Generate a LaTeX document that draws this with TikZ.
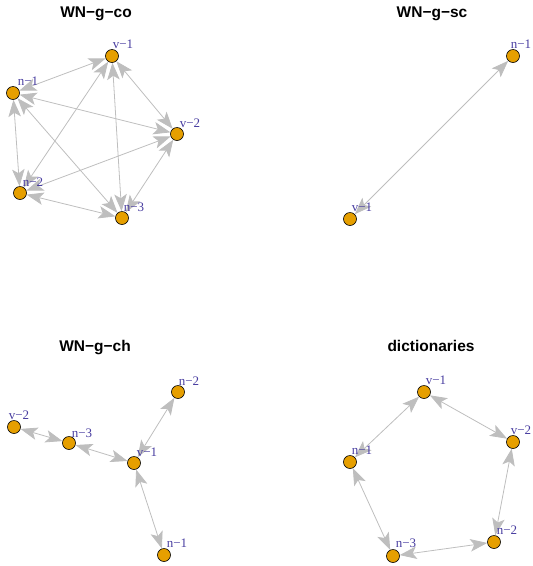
\documentclass[tikz,border=0pt]{standalone}
\usepackage{fontspec}
\setmainfont{Liberation Serif}
\setsansfont{Liberation Sans}
\usetikzlibrary{arrows.meta,backgrounds}
\definecolor{vfill}{RGB}{230,159,0}
\definecolor{egray}{RGB}{190,190,190}
\definecolor{lblue}{RGB}{72,61,160}
\tikzset{
  x=1pt, y=-1pt,
  vert/.style={circle, draw=black, line width=0.6pt, fill=vfill, minimum size=13pt, inner sep=0pt},
  vlab/.style={text=lblue, font=\fontsize{13}{13}\selectfont, inner sep=0pt, anchor=center},
  ptitle/.style={font=\sffamily\bfseries\fontsize{15.5}{15.5}\selectfont, anchor=base, inner sep=0pt},
  edge/.style={draw=egray, line width=0.8pt, {Stealth[length=17pt,width=12.5pt,inset=4pt]}-{Stealth[length=17pt,width=12.5pt,inset=4pt]}}
}
\begin{document}
\begin{tikzpicture}
\useasboundingbox (0,0) rectangle (533,566);
% ---------- Panel 1: WN-g-co ----------
\node[ptitle] (t1) at (96,17) {WN−g−co};
\node[vert] (a-v1) at (112,56) {};
\node[vert] (a-n1) at (13,93) {};
\node[vert] (a-v2) at (177,134) {};
\node[vert] (a-n2) at (20,193) {};
\node[vert] (a-n3) at (122,218) {};
% ---------- Panel 2: WN-g-sc ----------
\node[ptitle] (t2) at (432,17) {WN−g−sc};
\node[vert] (b-n1) at (513,56) {};
\node[vert] (b-v1) at (350,219) {};
% ---------- Panel 3: WN-g-ch ----------
\node[ptitle] (t3) at (95,351) {WN−g−ch};
\node[vert] (c-n2) at (178,392) {};
\node[vert] (c-v2) at (14,427) {};
\node[vert] (c-n3) at (69,443) {};
\node[vert] (c-v1) at (134,463) {};
\node[vert] (c-n1) at (164,555) {};
% ---------- Panel 4: dictionaries ----------
\node[ptitle] (t4) at (431,351) {dictionaries};
\node[vert] (d-v1) at (424,392) {};
\node[vert] (d-v2) at (513,442) {};
\node[vert] (d-n1) at (350,462) {};
\node[vert] (d-n2) at (494,542) {};
\node[vert] (d-n3) at (393,556) {};
% ---------- edges ----------
\begin{pgfonlayer}{background}
\draw[edge] (a-n1) -- (a-v1);
\draw[edge] (a-n1) -- (a-v2);
\draw[edge] (a-n1) -- (a-n2);
\draw[edge] (a-n1) -- (a-n3);
\draw[edge] (a-v1) -- (a-n2);
\draw[edge] (a-v1) -- (a-n3);
\draw[edge] (a-v1) -- (a-v2);
\draw[edge] (a-n2) -- (a-v2);
\draw[edge] (a-n2) -- (a-n3);
\draw[edge] (a-v2) -- (a-n3);
\draw[edge] (b-v1) -- (b-n1);
\draw[edge] (c-v2) -- (c-n3);
\draw[edge] (c-n3) -- (c-v1);
\draw[edge] (c-v1) -- (c-n2);
\draw[edge] (c-v1) -- (c-n1);
\draw[edge] (d-v1) -- (d-v2);
\draw[edge] (d-v1) -- (d-n1);
\draw[edge] (d-n1) -- (d-n3);
\draw[edge] (d-n3) -- (d-n2);
\draw[edge] (d-n2) -- (d-v2);
\end{pgfonlayer}
% ---------- labels ----------
\node[vlab] (la-v1) at (123,44) {v−1};
\node[vlab] (la-n1) at (28,81) {n−1};
\node[vlab] (la-v2) at (190,123) {v−2};
\node[vlab] (la-n2) at (33,182) {n−2};
\node[vlab] (la-n3) at (134,207) {n−3};
\node[vlab] (lb-n1) at (521,44) {n−1};
\node[vlab] (lb-v1) at (362,207) {v−1};
\node[vlab] (lc-n2) at (189,381) {n−2};
\node[vlab] (lc-v2) at (19,415) {v−2};
\node[vlab] (lc-n3) at (82,433) {n−3};
\node[vlab] (lc-v1) at (147,452) {v−1};
\node[vlab] (lc-n1) at (177,543) {n−1};
\node[vlab] (ld-v1) at (436,380) {v−1};
\node[vlab] (ld-v2) at (521,430) {v−2};
\node[vlab] (ld-n1) at (362,450) {n−1};
\node[vlab] (ld-n2) at (507,530) {n−2};
\node[vlab] (ld-n3) at (406,543) {n−3};
\end{tikzpicture}
\end{document}
